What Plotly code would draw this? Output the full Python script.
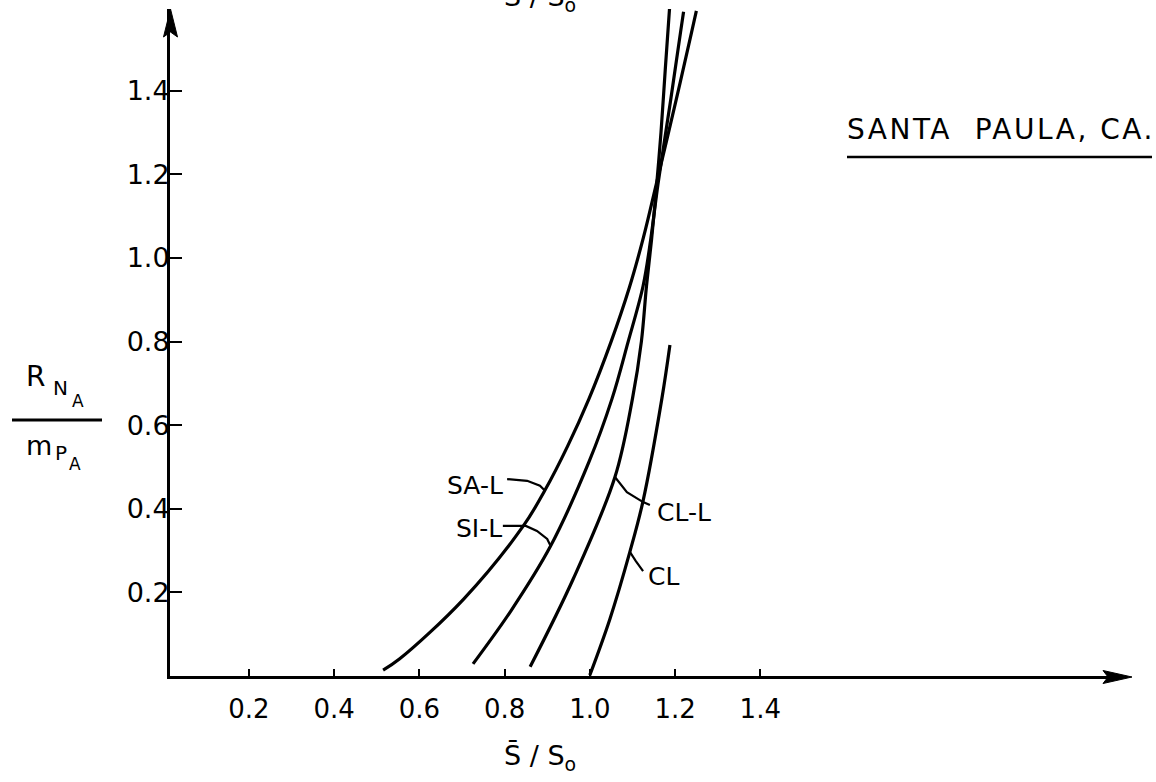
import plotly.graph_objects as go

# ---- curves: R_NA / m_PA against s̄/s_o (Santa Paula, CA.) ----
sa_l_x = [0.515, 0.554, 0.704, 0.844, 0.894, 0.948, 0.998, 1.050, 1.093, 1.126, 1.156, 1.203, 1.239, 1.250]
sa_l_y = [0.014, 0.041, 0.184, 0.359, 0.443, 0.550, 0.663, 0.800, 0.930, 1.050, 1.177, 1.380, 1.541, 1.591]

si_l_x = [0.726, 0.815, 0.907, 0.998, 1.052, 1.090, 1.125, 1.143, 1.160, 1.190, 1.213, 1.220]
si_l_y = [0.029, 0.156, 0.309, 0.512, 0.663, 0.800, 0.933, 1.045, 1.177, 1.380, 1.541, 1.589]

cl_l_x = [0.860, 0.961, 1.059, 1.100, 1.121, 1.133, 1.145, 1.157, 1.167, 1.177, 1.187]
cl_l_y = [0.022, 0.232, 0.476, 0.663, 0.800, 0.933, 1.045, 1.177, 1.300, 1.450, 1.596]

cl_x = [1.000, 1.047, 1.094, 1.125, 1.169, 1.188]
cl_y = [0.002, 0.136, 0.297, 0.419, 0.663, 0.792]

x_tickvals = [0.2, 0.4, 0.6, 0.8, 1.0, 1.2, 1.4]
x_ticktext = ["0.2", "0.4", "0.6", "0.8", "1.0", "1.2", "1.4"]
y_tickvals = [0.2, 0.4, 0.6, 0.8, 1.0, 1.2, 1.4]
y_ticktext = ["0.2", "0.4", "0.6", "0.8", "1.0", "1.2", "1.4"]

# ---- page geometry ----
W, H = 1156, 782
L, R, T, B = 170, 41, 9, 106
PW, PH = W - L - R, H - T - B
XSCALE, YSCALE = 426.2, 418.0          # pixels per axis unit
x_range = [0.015, 0.015 + PW / XSCALE]
y_range = [0.0, PH / YSCALE]


def px(xp):
    """page pixel column -> paper fraction"""
    return (xp - L) / PW


def py(yp):
    """page pixel row -> paper fraction"""
    return (H - B - yp) / PH


FONT = "DejaVu Sans"
INK = "black"

fig = go.Figure()

for xs, ys in [(sa_l_x, sa_l_y), (si_l_x, si_l_y), (cl_l_x, cl_l_y), (cl_x, cl_y)]:
    fig.add_trace(go.Scatter(
        x=xs, y=ys, mode="lines",
        line=dict(color=INK, width=3.2, shape="spline", smoothing=1.0),
        hoverinfo="skip", showlegend=False,
    ))

shapes = []

# leader lines from the curve labels
leaders = [
    [(0.806, 0.471), (0.853, 0.467), (0.883, 0.455), (0.895, 0.443)],
    [(0.796, 0.359), (0.850, 0.359), (0.876, 0.347), (0.900, 0.328), (0.909, 0.309)],
    [(1.059, 0.476), (1.087, 0.440), (1.125, 0.416), (1.141, 0.409)],
    [(1.094, 0.297), (1.108, 0.275), (1.125, 0.251)],
]
for pts in leaders:
    d = "M{},{}".format(*pts[0]) + "".join(" L{},{}".format(a, b) for a, b in pts[1:])
    shapes.append(dict(type="path", path=d, xref="x", yref="y",
                       line=dict(color=INK, width=2.2)))

# arrowheads at the ends of both axes
shapes.append(dict(
    type="path", xref="paper", yref="paper",
    path="M{},{} L{},{} L{},{} L{},{} Z".format(
        px(1132), py(677), px(1103), py(670.5), px(1108), py(677), px(1103), py(683.5)),
    fillcolor=INK, line=dict(color=INK, width=1)))
shapes.append(dict(
    type="path", xref="paper", yref="paper",
    path="M{},{} L{},{} L{},{} L{},{} Z".format(
        px(170.5), py(9), px(163.5), py(37), px(170.5), py(32), px(177.5), py(37)),
    fillcolor=INK, line=dict(color=INK, width=1)))

# underline of the site name
shapes.append(dict(type="line", xref="paper", yref="paper",
                   x0=px(847), x1=px(1152), y0=py(157), y1=py(157),
                   line=dict(color=INK, width=2.5)))

# fraction bar of the y-axis title
shapes.append(dict(type="line", xref="paper", yref="paper",
                   x0=px(12), x1=px(102), y0=py(420), y1=py(420),
                   line=dict(color=INK, width=3)))

annotations = []


def note(text, x, y, size, xanchor="center", yanchor="middle", xref="paper", yref="paper"):
    annotations.append(dict(text=text, x=x, y=y, xref=xref, yref=yref,
                            xanchor=xanchor, yanchor=yanchor, showarrow=False,
                            font=dict(family=FONT, size=size, color=INK)))


# curve labels
note("SA-L", 0.800, 0.455, 25, xanchor="right", xref="x", yref="y")
note("SI-L", 0.798, 0.354, 25, xanchor="right", xref="x", yref="y")
note("CL-L", 1.152, 0.392, 25, xanchor="left", xref="x", yref="y")
note("CL", 1.132, 0.239, 25, xanchor="left", xref="x", yref="y")

# site name
note('<span style="letter-spacing:2.5px">SANTA\u00a0 PAULA, CA.</span>', px(845), py(129), 28,
     xanchor="left")

# x-axis title, and the same title of the previous figure cut at the page top
xtitle = "S\u0304 / S<sub>o</sub>"
note(xtitle, px(540), py(757), 27)
note(xtitle, px(540), py(-1), 27)

# y-axis title as a stacked fraction: R with subscript N_A over m with subscript P_A
note("R", px(35), py(376), 28)
note("N", px(60), py(388), 20)
note("A", px(78), py(401), 17)
note("m", px(39), py(445), 27)
note("P", px(61), py(453), 20)
note("A", px(75), py(464), 17)

fig.update_layout(
    width=W, height=H,
    margin=dict(l=L, r=R, t=T, b=B, autoexpand=False),
    paper_bgcolor="white", plot_bgcolor="white",
    font=dict(family=FONT, color=INK),
    showlegend=False, hovermode=False,
    shapes=shapes, annotations=annotations,
    xaxis=dict(range=x_range, showgrid=False, zeroline=False,
               showline=True, linecolor=INK, linewidth=3,
               ticks="inside", ticklen=7, tickwidth=2, tickcolor=INK,
               tickvals=x_tickvals, ticktext=x_ticktext,
               tickfont=dict(family=FONT, size=26, color=INK),
               ticklabelstandoff=8, fixedrange=True),
    yaxis=dict(range=y_range, showgrid=False, zeroline=False,
               showline=True, linecolor=INK, linewidth=3,
               ticks="inside", ticklen=12, tickwidth=2, tickcolor=INK,
               tickvals=y_tickvals, ticktext=y_ticktext,
               tickfont=dict(family=FONT, size=27, color=INK),
               ticklabelstandoff=-8, fixedrange=True),
)

fig.write_html("out.html", config=dict(displayModeBar=False))
